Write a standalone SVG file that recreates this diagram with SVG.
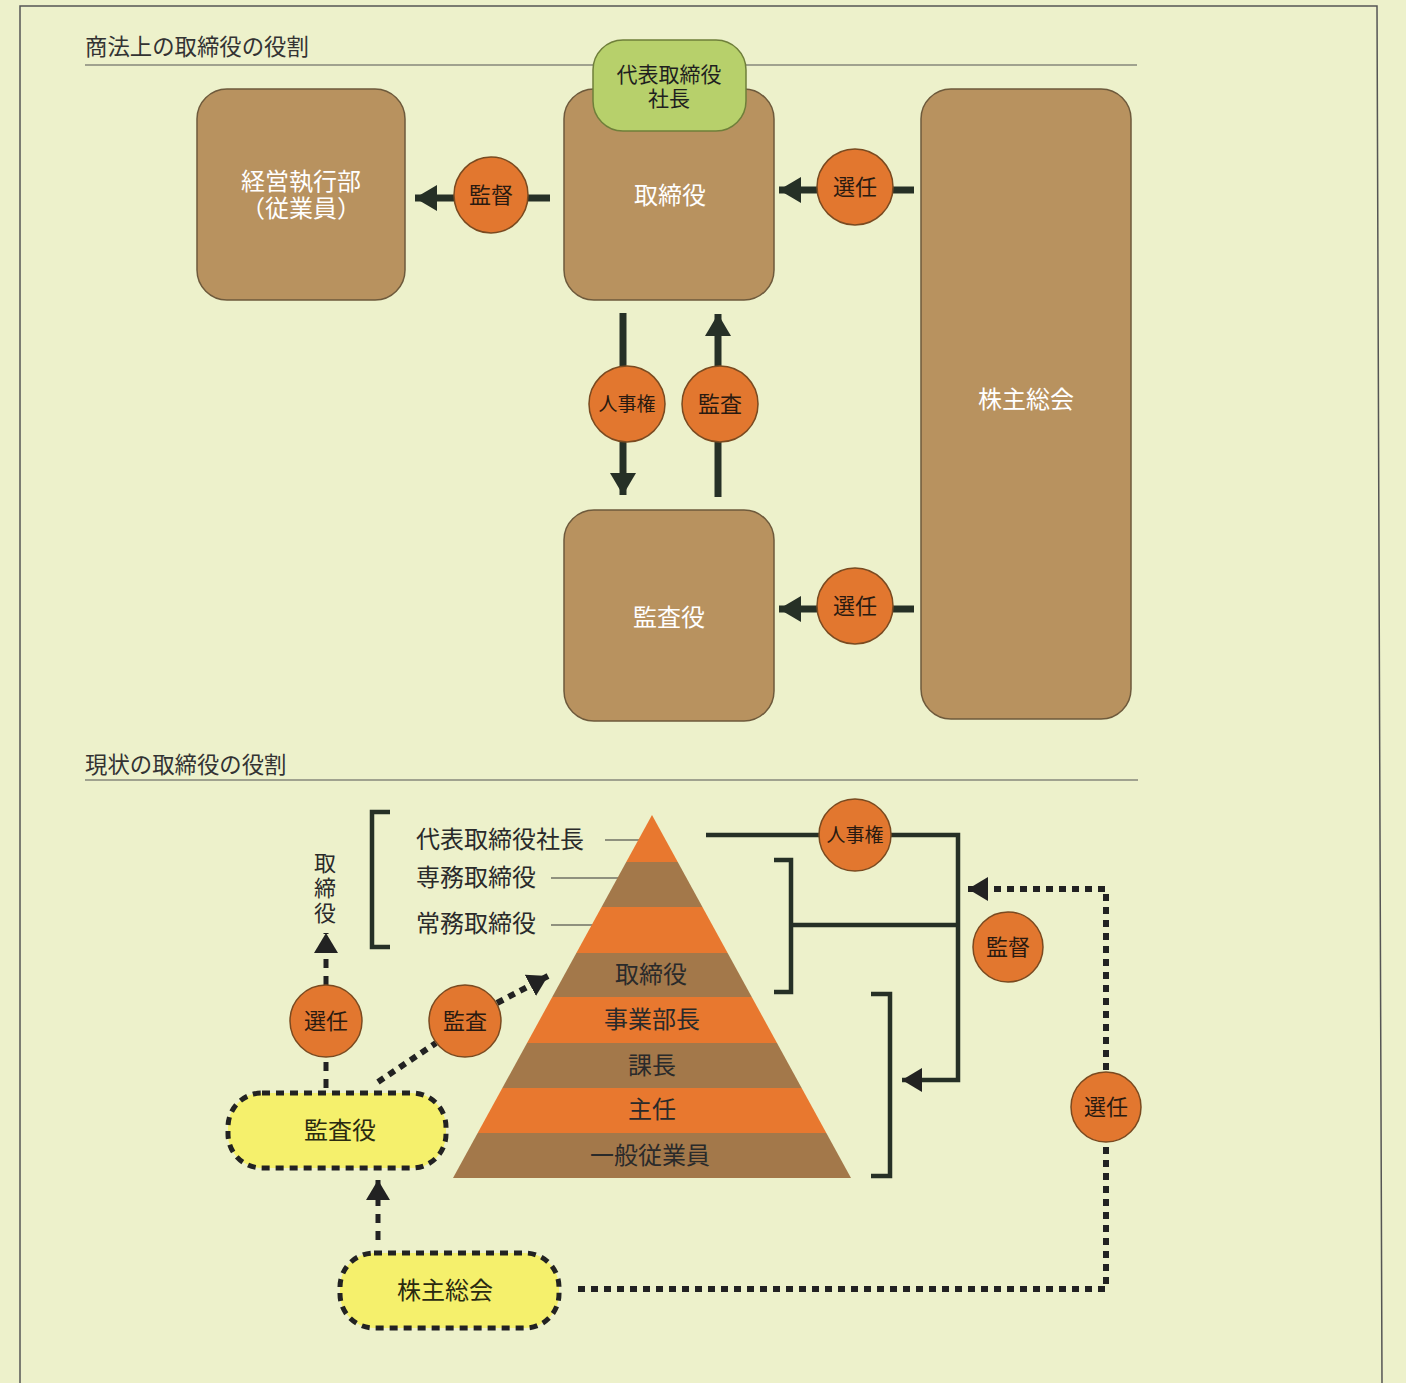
<svg xmlns="http://www.w3.org/2000/svg" width="1406" height="1383" viewBox="0 0 1406 1383">
<style>
text{font-family:'Noto Sans CJK JP','Noto Sans CJK SC',sans-serif;}
.hdr{font-size:22.4px;fill:#333;}
.box{fill:#b8925f;stroke:#6e5a3c;stroke-width:1.5;}
.btxt{font-size:24px;fill:#fff;text-anchor:middle;}
.circ{fill:#e2772f;stroke:#7a4a20;stroke-width:1.5;}
.ctxt{font-size:22px;fill:#2a1a10;text-anchor:middle;}
.ctxt.s{font-size:19px;}
.thick{stroke:#263026;stroke-width:7;fill:none;}
.solid{stroke:#263026;stroke-width:4.5;fill:none;}
.thin{stroke:#333;stroke-width:1.2;fill:none;}
.dot{stroke:#222;stroke-width:6;stroke-dasharray:7 6;fill:none;}
.dash{stroke:#222;stroke-width:5;stroke-dasharray:9 8;fill:none;}
.pill{fill:#f5f06c;stroke:#222;stroke-width:5;stroke-dasharray:8 6;}
.ptxt{font-size:24px;fill:#2a2a10;text-anchor:middle;}
.pyo{fill:#e8782f;}
.pyb{fill:#a3784a;}
.ltxt{font-size:24px;fill:#2a2a2a;}
.vtxt{font-size:22px;fill:#2a2a2a;text-anchor:middle;writing-mode:vertical-rl;letter-spacing:3px;}
.gtxt{font-size:21px;fill:#1f1f1f;text-anchor:middle;}
</style>
<defs>
<marker id="ah" markerUnits="userSpaceOnUse" markerWidth="24" markerHeight="26" refX="22" refY="13" orient="auto">
<path d="M0,0 L22,13 L0,26 Z" fill="#263026"/>
</marker>
<marker id="ah2" markerUnits="userSpaceOnUse" markerWidth="22" markerHeight="24" refX="20" refY="12" orient="auto">
<path d="M0,0 L20,12 L0,24 Z" fill="#222"/>
</marker>
</defs>
<rect x="0" y="0" width="1406" height="1383" fill="#edf1cb"/>
<path d="M20,1383 V6 H1377 L1382,1383" fill="none" stroke="#555" stroke-width="1.5"/>

<g id="header1">
<text class="hdr" x="85" y="55">商法上の取締役の役割</text>
<line x1="85" y1="65" x2="1137" y2="65" stroke="#555" stroke-width="1.2"/>
</g>
<g id="header2">
<text class="hdr" x="85" y="773">現状の取締役の役割</text>
<line x1="85" y1="780" x2="1138" y2="780" stroke="#555" stroke-width="1.2"/>
</g>

<g id="connectors">
<line class="thick" x1="550" y1="198" x2="528" y2="198"/>
<line class="thick" x1="454" y1="198" x2="415" y2="198" marker-end="url(#ah)"/>
<line class="thick" x1="914" y1="190" x2="892" y2="190"/>
<line class="thick" x1="818" y1="190" x2="779" y2="190" marker-end="url(#ah)"/>
<line class="thick" x1="914" y1="609" x2="892" y2="609"/>
<line class="thick" x1="818" y1="609" x2="779" y2="609" marker-end="url(#ah)"/>
<line class="thick" x1="623" y1="313" x2="623" y2="368"/>
<line class="thick" x1="623" y1="440" x2="623" y2="495" marker-end="url(#ah)"/>
<line class="thick" x1="718" y1="497" x2="718" y2="440"/>
<line class="thick" x1="718" y1="368" x2="718" y2="314" marker-end="url(#ah)"/>

<line class="thin" x1="605" y1="840" x2="650" y2="840"/>
<line class="thin" x1="551" y1="878" x2="650" y2="878"/>
<line class="thin" x1="551" y1="925" x2="650" y2="925"/>

<path class="solid" d="M390,812 H372 V947 H390"/>
<path class="solid" d="M774,860 H791 V992 H774"/>
<path class="solid" d="M871,994 H890 V1176 H871"/>
<line class="solid" x1="791" y1="925" x2="958" y2="925"/>
<line class="solid" x1="706" y1="835" x2="820" y2="835"/>
<path class="solid" d="M891,835 H958 V1080 H902" marker-end="url(#ah2)"/>

<line class="dash" x1="326" y1="1088" x2="326" y2="1058"/>
<line class="dash" x1="326" y1="985" x2="326" y2="933" marker-end="url(#ah2)"/>
<line class="dot" x1="378" y1="1082" x2="436" y2="1043"/>
<line class="dot" x1="497" y1="1003" x2="548" y2="976" marker-end="url(#ah2)"/>
<line class="dash" x1="378" y1="1240" x2="378" y2="1180" marker-end="url(#ah2)"/>
<path class="dot" d="M578,1289 H1106 V1145"/>
<path class="dot" d="M1106,1070 V889 H968" marker-end="url(#ah2)"/>
</g>

<g id="n-keiei">
<rect class="box" x="197" y="89" width="208" height="211" rx="30"/>
<text class="btxt"><tspan x="301" y="190">経営執行部</tspan><tspan x="301" y="217">（従業員）</tspan></text>
</g>
<g id="n-torishimari">
<rect class="box" x="564" y="89" width="210" height="211" rx="30"/>
<text class="btxt" x="670" y="204">取締役</text>
</g>
<g id="n-daihyo">
<rect x="593" y="40" width="153" height="91" rx="30" fill="#b7d06b" stroke="#6f7f3a" stroke-width="1.5"/>
<text class="gtxt"><tspan x="669" y="82">代表取締役</tspan><tspan x="669" y="106">社長</tspan></text>
</g>
<g id="n-kabunushi">
<rect class="box" x="921" y="89" width="210" height="630" rx="30"/>
<text class="btxt" x="1026" y="408">株主総会</text>
</g>
<g id="n-kansayaku">
<rect class="box" x="564" y="510" width="210" height="211" rx="30"/>
<text class="btxt" x="669" y="626">監査役</text>
</g>

<g id="c-kantoku1"><ellipse class="circ" cx="491" cy="195" rx="37" ry="38"/><text class="ctxt" x="491" y="203">監督</text></g>
<g id="c-senin1"><circle class="circ" cx="855" cy="187" r="38"/><text class="ctxt" x="855" y="195">選任</text></g>
<g id="c-jinji1"><circle class="circ" cx="627" cy="404" r="38"/><text class="ctxt s" x="627" y="411">人事権</text></g>
<g id="c-kansa1"><circle class="circ" cx="720" cy="404" r="38"/><text class="ctxt" x="720" y="412">監査</text></g>
<g id="c-senin2"><circle class="circ" cx="855" cy="606" r="38"/><text class="ctxt" x="855" y="614">選任</text></g>

<g id="pyramid">
<clipPath id="pyc"><polygon points="652,815 851,1178 453,1178"/></clipPath>
<g clip-path="url(#pyc)">
<rect class="pyo" x="440" y="810" width="420" height="52"/>
<rect class="pyb" x="440" y="862" width="420" height="45"/>
<rect class="pyo" x="440" y="907" width="420" height="46"/>
<rect class="pyb" x="440" y="953" width="420" height="44"/>
<rect class="pyo" x="440" y="997" width="420" height="46"/>
<rect class="pyb" x="440" y="1043" width="420" height="45"/>
<rect class="pyo" x="440" y="1088" width="420" height="45"/>
<rect class="pyb" x="440" y="1133" width="420" height="46"/>
</g>
<text class="ltxt" x="651" y="983" text-anchor="middle">取締役</text>
<text class="ltxt" x="652" y="1028" text-anchor="middle">事業部長</text>
<text class="ltxt" x="652" y="1074" text-anchor="middle">課長</text>
<text class="ltxt" x="652" y="1118" text-anchor="middle">主任</text>
<text class="ltxt" x="650" y="1164" text-anchor="middle">一般従業員</text>
</g>
<g id="labels-left">
<text class="ltxt" x="416" y="848">代表取締役社長</text>
<text class="ltxt" x="416" y="886">専務取締役</text>
<text class="ltxt" x="416" y="932">常務取締役</text>
<text class="vtxt" x="325" y="889">取締役</text>
</g>

<g id="c-jinji2"><circle class="circ" cx="855" cy="835" r="36"/><text class="ctxt s" x="855" y="842">人事権</text></g>
<g id="c-kantoku2"><circle class="circ" cx="1008" cy="947" r="35"/><text class="ctxt" x="1008" y="955">監督</text></g>
<g id="c-senin3"><circle class="circ" cx="1106" cy="1107" r="35"/><text class="ctxt" x="1106" y="1115">選任</text></g>
<g id="c-senin4"><circle class="circ" cx="326" cy="1021" r="36"/><text class="ctxt" x="326" y="1029">選任</text></g>
<g id="c-kansa2"><circle class="circ" cx="465" cy="1021" r="36"/><text class="ctxt" x="465" y="1029">監査</text></g>

<g id="n-kansayaku2">
<rect class="pill" x="228" y="1093" width="218" height="75" rx="34"/>
<text class="ptxt" x="340" y="1139">監査役</text>
</g>
<g id="n-kabunushi2">
<rect class="pill" x="340" y="1253" width="219" height="75" rx="34"/>
<text class="ptxt" x="445" y="1299">株主総会</text>
</g>
</svg>
